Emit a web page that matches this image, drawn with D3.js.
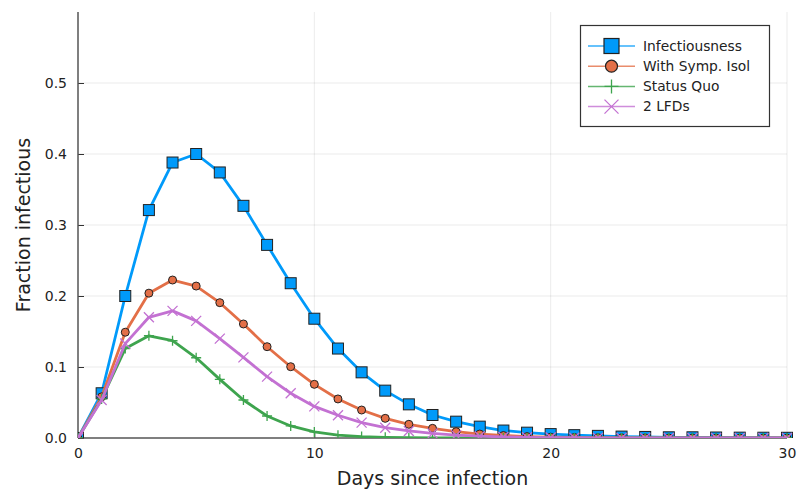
<!DOCTYPE html>
<html><head><meta charset="utf-8">
<script src="https://cdn.jsdelivr.net/npm/d3@7"></script>
<style>body{margin:0;background:#fff}svg{display:block}text{font-family:"DejaVu Sans",sans-serif}</style>
</head><body><svg id="c" width="798" height="490"></svg>
<script>
const days = d3.range(0, 31);
const infectiousness = [0, 0.063, 0.200, 0.321, 0.388, 0.400, 0.374, 0.327, 0.272, 0.218, 0.168, 0.126, 0.0925, 0.0667, 0.0474, 0.0324, 0.023, 0.016, 0.0105, 0.0075, 0.0055, 0.004, 0.003, 0.002, 0.0015, 0.001, 0.001, 0.0007, 0.0005, 0.0004, 0.0003];
const withSympIsol = [0, 0.058, 0.149, 0.204, 0.2225, 0.214, 0.1906, 0.1606, 0.1286, 0.1004, 0.0756, 0.055, 0.0394, 0.0277, 0.0193, 0.0136, 0.0089, 0.0056, 0.0035, 0.002, 0.0012, 0.0008, 0.0005, 0.0003, 0.0002, 0.0001, 0.0001, 0, 0, 0, 0];
const statusQuo = [0, 0.055, 0.126, 0.144, 0.137, 0.113, 0.0826, 0.0535, 0.031, 0.017, 0.0085, 0.004, 0.002, 0.001, 0.0005, 0.0002, 0.0001, 0, 0, 0, 0, 0, 0, 0, 0, 0, 0, 0, 0, 0, 0];
const twoLFDs = [0, 0.0535, 0.133, 0.170, 0.179, 0.165, 0.140, 0.1136, 0.0864, 0.063, 0.0445, 0.032, 0.0216, 0.0145, 0.0099, 0.0065, 0.004, 0.0025, 0.0015, 0.001, 0.0006, 0.0004, 0.0002, 0.0001, 0.0001, 0, 0, 0, 0, 0, 0];
const seriesNames = ["Infectiousness", "With Symp. Isol", "Status Quo", "2 LFDs"];
const xTicks = [0, 10, 20, 30];
const yTicks = [0.0, 0.1, 0.2, 0.3, 0.4, 0.5];

const colors = ["#009AFA", "#E36F47", "#3EA44E", "#C371D2"];
const markers = ["square", "circle", "plus", "cross"];
const seriesData = [infectiousness, withSympIsol, statusQuo, twoLFDs];

const svg = d3.select("#c");
const L = 78, R = 787, T = 12, B = 438;
const x = d3.scaleLinear().domain([0, 30]).range([L, R]);
const y = d3.scaleLinear().domain([0, 0.6]).range([B, T]);

svg.append("defs").append("clipPath").attr("id", "clip")
  .append("rect").attr("x", L).attr("y", T - 2).attr("width", R - L + 10).attr("height", B - T + 2);

// grid
const g = svg.append("g");
g.selectAll(".hg").data(yTicks.filter(d => d > 0)).join("line")
  .attr("x1", L).attr("x2", R).attr("y1", d => y(d)).attr("y2", d => y(d))
  .attr("stroke", "#000").attr("stroke-opacity", 0.08).attr("stroke-width", 1);
g.selectAll(".vg").data(xTicks.filter(d => d > 0)).join("line")
  .attr("y1", T).attr("y2", B).attr("x1", d => x(d)).attr("x2", d => x(d))
  .attr("stroke", "#000").attr("stroke-opacity", 0.08).attr("stroke-width", 1);

// axes
const xAxis = svg.append("g").attr("transform", `translate(0,${B})`)
  .call(d3.axisBottom(x).tickValues(xTicks).tickSize(-6).tickPadding(10).tickFormat(d3.format("d")));
const yAxis = svg.append("g").attr("transform", `translate(${L},0)`)
  .call(d3.axisLeft(y).tickValues(yTicks).tickSize(-6).tickPadding(11).tickFormat(d3.format(".1f")));
[xAxis, yAxis].forEach(a => {
  a.select(".domain").remove();
  a.selectAll(".tick line").attr("stroke", "#333").attr("stroke-width", 1);
  a.selectAll(".tick text").attr("font-size", 14).attr("fill", "#222")
    .attr("font-family", "DejaVu Sans, sans-serif");
});
svg.append("line").attr("x1", L).attr("x2", L).attr("y1", T).attr("y2", B).attr("stroke", "#555").attr("stroke-width", 1.5);
svg.append("line").attr("x1", L).attr("x2", R).attr("y1", B).attr("y2", B).attr("stroke", "#555").attr("stroke-width", 1.5);

// titles
svg.append("text").attr("x", (L + R) / 2).attr("y", 485).attr("text-anchor", "middle")
  .attr("font-size", 19).attr("fill", "#222").text("Days since infection");
svg.append("text").attr("transform", `translate(30,${(T + B) / 2}) rotate(-90)`).attr("text-anchor", "middle")
  .attr("font-size", 19).attr("fill", "#222").text("Fraction infectious");

function drawMarker(sel, type, color) {
  if (type === "square") {
    sel.append("rect").attr("x", -5.5).attr("y", -5.5).attr("width", 11).attr("height", 11)
      .attr("fill", color).attr("stroke", "#222").attr("stroke-width", 1);
  } else if (type === "circle") {
    sel.append("circle").attr("r", 4).attr("fill", color).attr("stroke", "#222").attr("stroke-width", 1);
  } else if (type === "plus") {
    sel.append("path").attr("d", "M-5,0H5M0,-5V5").attr("stroke", color).attr("stroke-width", 1.3);
  } else {
    sel.append("path").attr("d", "M-5,-5L5,5M-5,5L5,-5").attr("stroke", color).attr("stroke-width", 1.3);
  }
}

const plot = svg.append("g").attr("clip-path", "url(#clip)");
const line = d3.line().x((d, i) => x(days[i])).y(d => y(d));
seriesData.forEach((s, k) => {
  const gs = plot.append("g");
  gs.append("path").datum(s).attr("d", line).attr("fill", "none")
    .attr("stroke", colors[k]).attr("stroke-width", 2.8).attr("stroke-linejoin", "round");
  s.forEach((v, i) => {
    const m = gs.append("g").attr("transform", `translate(${x(days[i])},${y(v)})`);
    drawMarker(m, markers[k], colors[k]);
  });
});

// legend
const lg = svg.append("g");
lg.append("rect").attr("x", 580.5).attr("y", 25.5).attr("width", 189).attr("height", 101)
  .attr("fill", "#fff").attr("stroke", "#333").attr("stroke-width", 1.2);
seriesNames.forEach((n, k) => {
  const yy = 46 + k * 20.2;
  lg.append("line").attr("x1", 588).attr("x2", 635).attr("y1", yy).attr("y2", yy)
    .attr("stroke", colors[k]).attr("stroke-width", 1.5).attr("stroke-opacity", 0.8);
  const m = lg.append("g").attr("transform", `translate(611.5,${yy})`);
  if (markers[k] === "square") {
    m.append("rect").attr("x", -7.5).attr("y", -7.5).attr("width", 15).attr("height", 15)
      .attr("fill", colors[k]).attr("stroke", "#222").attr("stroke-width", 1.2);
  } else if (markers[k] === "circle") {
    m.append("circle").attr("r", 6).attr("fill", colors[k]).attr("stroke", "#222").attr("stroke-width", 1.2);
  } else if (markers[k] === "plus") {
    m.append("path").attr("d", "M-7,0H7M0,-7V7").attr("stroke", colors[k]).attr("stroke-width", 1.3);
  } else {
    m.append("path").attr("d", "M-7,-7L7,7M-7,7L7,-7").attr("stroke", colors[k]).attr("stroke-width", 1.3);
  }
  lg.append("text").attr("x", 643).attr("y", yy + 4.5).attr("font-size", 13.8).attr("fill", "#222").text(n);
});
</script></body></html>
